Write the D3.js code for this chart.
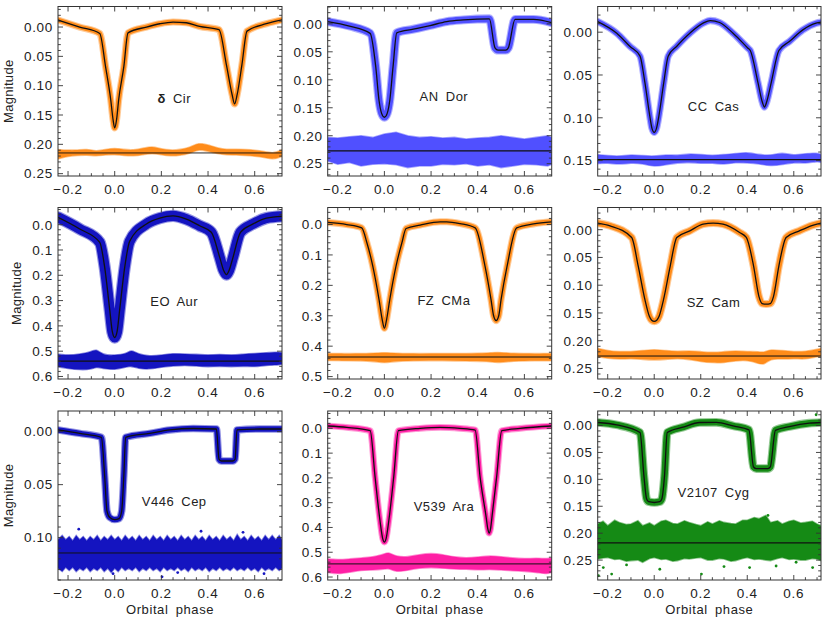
<!DOCTYPE html>
<html><head><meta charset="utf-8">
<script src="https://cdn.jsdelivr.net/npm/d3@7"></script>
<style>
body{margin:0;background:#fff}
text{font-family:"Liberation Sans",Arial,sans-serif;fill:#222}
</style>
</head><body>
<svg id="c" width="830" height="624"></svg>
<script>
// ---------------- DATA ----------------
const starNames = ["δ Cir","AN Dor","CC Cas","EO Aur","FZ CMa","SZ Cam","V446 Cep","V539 Ara","V2107 Cyg"];
const xDomain = [-0.243, 0.717];
const xTickVals = [-0.2, 0.0, 0.2, 0.4, 0.6];
const yDomains = [[-0.035,0.254],[-0.031,0.272],[-0.030,0.168],[-0.068,0.61],[-0.056,0.508],[-0.040,0.269],[-0.0195,0.14],[-0.070,0.612],[-0.027,0.287]];
const yTickVals = [
  [0,0.05,0.10,0.15,0.20,0.25],
  [0,0.05,0.10,0.15,0.20,0.25],
  [0,0.05,0.10,0.15],
  [0,0.1,0.2,0.3,0.4,0.5,0.6],
  [0,0.1,0.2,0.3,0.4,0.5],
  [0,0.05,0.10,0.15,0.20,0.25],
  [0,0.05,0.10],
  [0,0.1,0.2,0.3,0.4,0.5,0.6],
  [0,0.05,0.10,0.15,0.20,0.25]
];
// observational scatter (half width, mag) of the light curves
const lcScatter = [0.0042,0.006,0.003,0.02,0.008,0.0052,0.0025,0.009,0.006];
// residual reference levels (mag)
const resLevels = [0.2147,0.227,0.1489,0.539,0.4356,0.2276,0.1145,0.547,0.218];

// model light curves [phase, magnitude]
const dCirModel = [[-0.243,-0.012],[-0.15,0.0],[-0.064,0.011],[-0.039,0.068],[-0.017,0.124],[-0.007,0.158],[0,0.172],[0.008,0.158],[0.017,0.124],[0.039,0.068],[0.057,0.010],[0.136,0.0],[0.193,-0.0056],[0.25,-0.0085],[0.307,-0.0073],[0.364,-0.001],[0.447,0.0045],[0.479,0.065],[0.503,0.115],[0.514,0.131],[0.525,0.115],[0.545,0.065],[0.567,0.007],[0.65,-0.0056],[0.72,-0.0124]];
const anDorModel = [[-0.243,-0.004],[-0.15,0.004],[-0.061,0.017],[-0.037,0.077],[-0.023,0.137],[-0.012,0.160],[0,0.167],[0.012,0.160],[0.023,0.137],[0.037,0.077],[0.053,0.016],[0.124,0.0096],[0.196,0.003],[0.267,-0.004],[0.339,-0.007],[0.45,-0.009],[0.474,0.043],[0.487,0.047],[0.52,0.047],[0.531,0.043],[0.56,-0.008],[0.639,-0.008],[0.717,-0.002]];
const ccCasModel = [[-0.243,-0.0124],[-0.161,0.0012],[-0.104,0.0167],[-0.061,0.028],[-0.04,0.059],[-0.019,0.098],[-0.01,0.112],[0,0.117],[0.01,0.112],[0.02,0.098],[0.041,0.059],[0.06,0.028],[0.096,0.0167],[0.153,0.0012],[0.21,-0.0105],[0.241,-0.0136],[0.281,-0.0113],[0.339,0.0012],[0.403,0.0187],[0.413,0.0214],[0.446,0.059],[0.464,0.081],[0.474,0.0874],[0.484,0.081],[0.503,0.059],[0.536,0.0214],[0.581,0.0109],[0.639,-0.0027],[0.696,-0.0105],[0.717,-0.0117]];
const eoAurModel = [[-0.243,-0.029],[-0.15,0.017],[-0.064,0.070],[-0.043,0.168],[-0.021,0.339],[-0.01,0.424],[0,0.446],[0.01,0.424],[0.021,0.339],[0.043,0.168],[0.064,0.066],[0.136,-0.003],[0.193,-0.026],[0.25,-0.035],[0.307,-0.022],[0.364,0.004],[0.414,0.030],[0.45,0.129],[0.467,0.181],[0.479,0.197],[0.49,0.181],[0.507,0.129],[0.539,0.030],[0.593,-0.003],[0.65,-0.026],[0.719,-0.033]];
const fzCMaModel = [[-0.243,-0.007],[-0.161,0.0],[-0.097,0.011],[-0.075,0.06],[-0.05,0.136],[-0.023,0.247],[-0.01,0.31],[0,0.341],[0.01,0.31],[0.023,0.247],[0.05,0.136],[0.075,0.06],[0.093,0.013],[0.153,0.002],[0.239,-0.009],[0.267,-0.009],[0.324,-0.003],[0.389,0.011],[0.431,0.136],[0.457,0.247],[0.468,0.30],[0.479,0.316],[0.49,0.30],[0.5,0.247],[0.526,0.136],[0.567,0.011],[0.639,-0.002],[0.717,-0.009]];
const szCamModel = [[-0.243,-0.012],[-0.19,-0.007],[-0.097,0.014],[-0.069,0.065],[-0.04,0.126],[-0.021,0.156],[-0.011,0.163],[0,0.165],[0.011,0.163],[0.021,0.156],[0.04,0.126],[0.069,0.065],[0.097,0.014],[0.153,0.002],[0.21,-0.01],[0.253,-0.012],[0.296,-0.01],[0.367,0.005],[0.396,0.014],[0.427,0.065],[0.45,0.12],[0.464,0.133],[0.481,0.134],[0.499,0.133],[0.513,0.12],[0.536,0.065],[0.567,0.014],[0.624,0.002],[0.681,-0.008],[0.717,-0.012]];
const v446CepModel = [[-0.243,-0.0016],[-0.15,0.0016],[-0.057,0.0053],[-0.043,0.042],[-0.033,0.075],[-0.021,0.081],[0,0.083],[0.019,0.082],[0.03,0.075],[0.039,0.042],[0.047,0.0053],[0.15,0.0016],[0.236,-0.0016],[0.336,-0.003],[0.436,-0.0025],[0.447,0.026],[0.457,0.0277],[0.507,0.0277],[0.516,0.026],[0.524,-0.0016],[0.621,-0.0025],[0.719,-0.0025]];
const v539AraModel = [[-0.243,-0.0095],[-0.161,-0.004],[-0.061,0.0095],[-0.04,0.196],[-0.019,0.372],[-0.007,0.446],[0,0.459],[0.007,0.446],[0.019,0.372],[0.04,0.196],[0.06,0.0095],[0.153,0.0],[0.239,-0.004],[0.324,0.0],[0.389,0.0068],[0.41,0.196],[0.436,0.358],[0.443,0.405],[0.449,0.423],[0.455,0.405],[0.461,0.358],[0.481,0.196],[0.503,0.0095],[0.581,0.0],[0.717,-0.0095]];
const v2107CygModel = [[-0.243,-0.0056],[-0.161,-0.0012],[-0.061,0.013],[-0.044,0.095],[-0.033,0.136],[-0.024,0.1415],[0,0.143],[0.024,0.1415],[0.033,0.136],[0.044,0.095],[0.056,0.013],[0.124,0.003],[0.196,-0.0056],[0.267,-0.006],[0.339,0.0006],[0.407,0.008],[0.427,0.077],[0.439,0.080],[0.489,0.080],[0.499,0.077],[0.521,0.009],[0.581,0.002],[0.667,-0.0044],[0.717,-0.0056]];

// residual envelopes [phase, upper mag, lower mag]
const dCirRes = [[-0.243,0.209,0.225],[-0.2,0.210,0.220],[-0.16,0.210,0.219],[-0.12,0.208,0.218],[-0.08,0.212,0.220],[-0.04,0.209,0.218],[0,0.206,0.2175],[0.04,0.209,0.219],[0.08,0.210,0.220],[0.12,0.207,0.218],[0.16,0.203,0.215],[0.2,0.208,0.218],[0.24,0.210,0.220],[0.28,0.209,0.219],[0.32,0.206,0.216],[0.36,0.197,0.208],[0.40,0.201,0.212],[0.44,0.206,0.216],[0.48,0.209,0.218],[0.52,0.208,0.218],[0.56,0.209,0.219],[0.60,0.210,0.220],[0.64,0.212,0.222],[0.68,0.216,0.226],[0.72,0.209,0.220]];
const anDorRes = [[-0.243,0.203,0.245],[-0.2,0.204,0.251],[-0.15,0.202,0.248],[-0.1,0.200,0.254],[-0.05,0.203,0.251],[0,0.197,0.250],[0.05,0.194,0.252],[0.1,0.200,0.257],[0.15,0.203,0.254],[0.2,0.202,0.254],[0.25,0.204,0.251],[0.3,0.203,0.252],[0.35,0.206,0.250],[0.4,0.204,0.254],[0.45,0.203,0.252],[0.5,0.200,0.257],[0.55,0.203,0.254],[0.6,0.206,0.251],[0.65,0.203,0.252],[0.7,0.200,0.254],[0.717,0.203,0.251]];
const ccCasRes = [[-0.243,0.143,0.1535],[-0.2,0.1442,0.1527],[-0.15,0.145,0.1547],[-0.1,0.143,0.1527],[-0.05,0.1442,0.1535],[0,0.145,0.1574],[0.05,0.143,0.1547],[0.1,0.1442,0.1527],[0.15,0.1419,0.152],[0.2,0.143,0.1535],[0.25,0.1442,0.1527],[0.3,0.143,0.1547],[0.35,0.1419,0.152],[0.4,0.1403,0.1527],[0.45,0.143,0.1535],[0.5,0.1442,0.1566],[0.55,0.1403,0.1547],[0.6,0.1442,0.152],[0.65,0.1419,0.1535],[0.7,0.1411,0.1508],[0.717,0.143,0.152]];
const eoAurRes = [[-0.243,0.512,0.562],[-0.2,0.516,0.568],[-0.15,0.512,0.574],[-0.1,0.503,0.572],[-0.08,0.490,0.562],[-0.05,0.516,0.568],[0,0.516,0.574],[0.05,0.512,0.562],[0.07,0.493,0.559],[0.1,0.512,0.568],[0.15,0.520,0.572],[0.2,0.516,0.562],[0.25,0.509,0.559],[0.3,0.512,0.555],[0.35,0.512,0.559],[0.4,0.516,0.562],[0.45,0.512,0.559],[0.5,0.516,0.562],[0.55,0.512,0.559],[0.6,0.509,0.562],[0.65,0.507,0.555],[0.7,0.503,0.555],[0.719,0.507,0.551]];
const fzCMaRes = [[-0.243,0.424,0.447],[-0.15,0.425,0.448],[-0.05,0.424,0.449],[0,0.421,0.456],[0.05,0.424,0.449],[0.15,0.425,0.448],[0.25,0.424,0.447],[0.35,0.425,0.449],[0.45,0.423,0.450],[0.48,0.420,0.455],[0.55,0.424,0.449],[0.65,0.425,0.448],[0.717,0.424,0.448]];
const szCamRes = [[-0.243,0.2137,0.2288],[-0.2,0.218,0.2318],[-0.15,0.2197,0.2337],[-0.1,0.2197,0.2318],[-0.05,0.218,0.2337],[0,0.2155,0.2349],[0.05,0.218,0.2337],[0.1,0.2197,0.2318],[0.15,0.218,0.2337],[0.2,0.2197,0.2379],[0.25,0.2215,0.2397],[0.3,0.2197,0.2397],[0.35,0.218,0.2361],[0.4,0.2197,0.2349],[0.45,0.2197,0.2409],[0.47,0.2215,0.244],[0.5,0.2155,0.2318],[0.55,0.218,0.2337],[0.6,0.2197,0.2318],[0.65,0.2197,0.2337],[0.7,0.2155,0.2288],[0.717,0.2137,0.2276]];
const v446CepRes = [[-0.243,0.102,0.129],[-0.225,0.098,0.132],[-0.21,0.102,0.128],[-0.195,0.099,0.131],[-0.18,0.103,0.128],[-0.165,0.098,0.132],[-0.15,0.102,0.129],[-0.135,0.099,0.131],[-0.12,0.103,0.128],[-0.105,0.099,0.132],[-0.09,0.102,0.129],[-0.075,0.098,0.131],[-0.06,0.103,0.128],[-0.045,0.099,0.132],[-0.03,0.102,0.129],[-0.015,0.098,0.133],[0.0,0.102,0.129],[0.015,0.099,0.132],[0.03,0.103,0.128],[0.045,0.098,0.131],[0.06,0.102,0.129],[0.075,0.099,0.131],[0.09,0.103,0.128],[0.105,0.098,0.132],[0.12,0.102,0.129],[0.135,0.099,0.131],[0.15,0.103,0.128],[0.165,0.098,0.131],[0.18,0.102,0.129],[0.195,0.099,0.132],[0.21,0.103,0.128],[0.225,0.098,0.131],[0.24,0.102,0.129],[0.255,0.099,0.131],[0.27,0.103,0.128],[0.285,0.098,0.131],[0.30,0.102,0.129],[0.315,0.099,0.132],[0.33,0.103,0.128],[0.345,0.098,0.131],[0.36,0.102,0.129],[0.375,0.099,0.131],[0.39,0.103,0.128],[0.405,0.098,0.132],[0.42,0.102,0.129],[0.435,0.099,0.131],[0.45,0.103,0.128],[0.465,0.098,0.131],[0.48,0.102,0.129],[0.495,0.099,0.131],[0.51,0.103,0.128],[0.525,0.097,0.131],[0.54,0.102,0.129],[0.555,0.099,0.131],[0.57,0.103,0.128],[0.585,0.098,0.131],[0.60,0.102,0.129],[0.615,0.099,0.132],[0.63,0.103,0.128],[0.645,0.098,0.131],[0.66,0.102,0.129],[0.675,0.098,0.131],[0.69,0.102,0.128],[0.705,0.098,0.131],[0.717,0.102,0.129]];
const v539AraRes = [[-0.243,0.527,0.581],[-0.2,0.531,0.588],[-0.15,0.527,0.581],[-0.1,0.523,0.572],[-0.05,0.520,0.572],[0,0.507,0.568],[0.02,0.500,0.564],[0.05,0.518,0.581],[0.1,0.520,0.572],[0.15,0.509,0.564],[0.2,0.504,0.561],[0.25,0.509,0.564],[0.3,0.520,0.568],[0.35,0.523,0.568],[0.4,0.520,0.572],[0.45,0.514,0.568],[0.5,0.518,0.572],[0.55,0.523,0.574],[0.6,0.527,0.577],[0.65,0.523,0.581],[0.7,0.527,0.588],[0.717,0.523,0.581]];
const v2107CygRes = [[-0.243,0.183,0.248],[-0.22,0.178,0.246],[-0.2,0.186,0.245],[-0.17,0.176,0.249],[-0.15,0.180,0.248],[-0.12,0.184,0.252],[-0.1,0.183,0.251],[-0.07,0.177,0.250],[-0.05,0.186,0.254],[-0.02,0.181,0.247],[0,0.186,0.245],[0.03,0.178,0.249],[0.05,0.176,0.248],[0.08,0.182,0.252],[0.1,0.183,0.251],[0.13,0.177,0.247],[0.15,0.180,0.248],[0.18,0.184,0.246],[0.2,0.186,0.245],[0.23,0.179,0.250],[0.25,0.183,0.250],[0.28,0.177,0.247],[0.3,0.180,0.248],[0.33,0.182,0.252],[0.35,0.183,0.251],[0.38,0.176,0.247],[0.4,0.176,0.245],[0.43,0.171,0.249],[0.45,0.173,0.248],[0.48,0.167,0.250],[0.5,0.180,0.251],[0.53,0.177,0.247],[0.55,0.183,0.245],[0.58,0.178,0.249],[0.6,0.176,0.248],[0.63,0.181,0.250],[0.65,0.180,0.250],[0.68,0.178,0.247],[0.7,0.183,0.248],[0.717,0.186,0.251]];

// isolated points [phase, mag]
const v446CepOutliers = [[-0.154,0.092],[-0.007,0.134],[0.203,0.137],[0.27,0.133],[0.55,0.095],[0.64,0.134],[0.37,0.094]];
const v2107CygOutliers = [[-0.24,0.279],[-0.219,0.264],[-0.183,0.276],[-0.119,0.259],[0.024,0.267],[0.203,0.276],[0.30,0.262],[0.41,0.264],[0.524,0.261],[0.61,0.254],[0.681,0.264],[0.696,-0.02],[0.489,0.167]];

const models = [dCirModel,anDorModel,ccCasModel,eoAurModel,fzCMaModel,szCamModel,v446CepModel,v539AraModel,v2107CygModel];
const residuals = [dCirRes,anDorRes,ccCasRes,eoAurRes,fzCMaRes,szCamRes,v446CepRes,v539AraRes,v2107CygRes];
const outliers = [[],[],[],[],[],[],v446CepOutliers,[],v2107CygOutliers];

// ---------------- STYLE / LAYOUT ----------------
const colors = ["#ff8c1a","#5050ff","#5050ff","#1414c0","#ff8c1a","#ff8c1a","#1414c0","#ff1fa5","#158a15"];
const yFormats = [".2f",".2f",".2f",".1f",".1f",".2f",".2f",".1f",".2f"];
const yMinorStep = [0.01,0.01,0.01,0.02,0.02,0.01,0.01,0.02,0.01];
const resCurves = [d3.curveBasis,d3.curveLinear,d3.curveBasis,d3.curveBasis,d3.curveBasis,d3.curveBasis,d3.curveLinear,d3.curveBasis,d3.curveLinear];
const resLineWidth = [0.9,1.1,1.1,1.2,1.1,1.0,1.0,1.0,1.2];
const nameYFrac = [0.542,0.532,0.587,0.549,0.544,0.553,0.533,0.566,0.483];
const cols = [[58,282],[327.7,551.7],[597.7,821]];
const rows = [[6.5,176],[207.5,379],[411,580]];

const svg = d3.select("#c");
const defs = svg.append("defs");

starNames.forEach((nm, i) => {
  const c = i % 3, r = Math.floor(i / 3);
  const [x0, x1] = cols[c], [y0, y1] = rows[r];
  const x = d3.scaleLinear().domain(xDomain).range([x0, x1]);
  const y = d3.scaleLinear().domain(yDomains[i]).range([y0, y1]);
  const g = svg.append("g");
  const clipId = "clip" + i;
  defs.append("clipPath").attr("id", clipId).append("rect")
    .attr("x", x0).attr("y", y0).attr("width", x1 - x0).attr("height", y1 - y0);
  const pg = g.append("g").attr("clip-path", `url(#${clipId})`);
  const col = colors[i];

  // residual band
  const area = d3.area().x(d => x(d[0])).y0(d => y(d[1])).y1(d => y(d[2])).curve(resCurves[i]);
  pg.append("path").datum(residuals[i]).attr("d", area)
    .attr("fill", col).attr("stroke", col).attr("stroke-opacity", 0.5).attr("stroke-width", 1.6);
  pg.selectAll("circle.o").data(outliers[i]).join("circle")
    .attr("cx", d => x(d[0])).attr("cy", d => y(d[1])).attr("r", 1.4).attr("fill", col);
  // residual zero line
  pg.append("line").attr("x1", x0).attr("x2", x1)
    .attr("y1", y(resLevels[i])).attr("y2", y(resLevels[i]))
    .attr("stroke", "#111").attr("stroke-width", resLineWidth[i]);

  // light curve (observations as band) + model
  const pxPerMag = Math.abs(y(1) - y(0));
  const bw = 2 * lcScatter[i] * pxPerMag;
  const line = d3.line().x(d => x(d[0])).y(d => y(d[1])).curve(d3.curveMonotoneX);
  pg.append("path").datum(models[i]).attr("d", line).attr("fill", "none")
    .attr("stroke", col).attr("stroke-opacity", 0.45).attr("stroke-width", bw + 2.2)
    .attr("stroke-linejoin", "round").attr("stroke-linecap", "round");
  pg.append("path").datum(models[i]).attr("d", line).attr("fill", "none")
    .attr("stroke", col).attr("stroke-width", bw)
    .attr("stroke-linejoin", "round").attr("stroke-linecap", "round");
  pg.append("path").datum(models[i]).attr("d", line).attr("fill", "none")
    .attr("stroke", "#111").attr("stroke-width", 1.3).attr("stroke-linejoin", "round");

  // frame
  g.append("rect").attr("x", x0).attr("y", y0).attr("width", x1 - x0).attr("height", y1 - y0)
    .attr("fill", "none").attr("stroke", "#333").attr("stroke-width", 1);

  // x ticks
  const xMinor = d3.range(-0.2, xDomain[1] + 1e-9, 0.05).map(v => Math.round(v * 100) / 100);
  const tk = g.append("g").attr("stroke", "#333").attr("stroke-width", 0.9);
  xMinor.forEach(v => {
    const major = xTickVals.some(t => Math.abs(t - v) < 1e-6);
    const L = major ? 5 : 2.8;
    tk.append("line").attr("x1", x(v)).attr("x2", x(v)).attr("y1", y1).attr("y2", y1 - L);
    tk.append("line").attr("x1", x(v)).attr("x2", x(v)).attr("y1", y0).attr("y2", y0 + L);
  });
  // y ticks
  const st = yMinorStep[i];
  const yMinor = d3.range(Math.ceil(yDomains[i][0] / st) * st, yDomains[i][1] + 1e-9, st).map(v => Math.round(v * 1000) / 1000);
  yMinor.forEach(v => {
    const major = yTickVals[i].some(t => Math.abs(t - v) < 1e-6);
    const L = major ? 5 : 2.8;
    tk.append("line").attr("y1", y(v)).attr("y2", y(v)).attr("x1", x0).attr("x2", x0 + L);
    tk.append("line").attr("y1", y(v)).attr("y2", y(v)).attr("x1", x1).attr("x2", x1 - L);
  });

  // tick labels
  const fx = d3.format(".1f"), fy = d3.format(yFormats[i]);
  g.selectAll("text.xl").data(xTickVals).join("text")
    .attr("x", d => x(d)).attr("y", y1 + 18).attr("text-anchor", "middle")
    .attr("font-size", 13.5).attr("letter-spacing", 0.7).text(d => fx(d));
  g.selectAll("text.yl").data(yTickVals[i]).join("text")
    .attr("x", x0 - 5).attr("y", d => y(d) + 4.8).attr("text-anchor", "end")
    .attr("font-size", 13.5).attr("letter-spacing", 0.7).text(d => fy(d));

  // star name (Greek letter drawn bold as in the original)
  const t = g.append("text").attr("x", x(0.255)).attr("y", y0 + nameYFrac[i] * (y1 - y0) + 4.6)
    .attr("text-anchor", "middle").attr("font-size", 13).attr("letter-spacing", 0.5)
    .attr("word-spacing", 3);
  const parts = nm.split(" ");
  t.append("tspan").attr("font-weight", /[α-ω]/.test(parts[0]) ? "bold" : null).text(parts[0]);
  t.append("tspan").text(" " + parts.slice(1).join(" "));

  // axis titles
  if (c === 0) {
    const tx = r === 1 ? 17 : 9;
    g.append("text").attr("transform", `translate(${tx + 4},${(y0 + y1) / 2}) rotate(-90)`)
      .attr("text-anchor", "middle").attr("font-size", 13).attr("letter-spacing", 0.3).text("Magnitude");
  }
  if (r === 2) {
    g.append("text").attr("x", (x0 + x1) / 2).attr("y", 614).attr("text-anchor", "middle")
      .attr("font-size", 13).attr("letter-spacing", 0.6).attr("word-spacing", 3).text("Orbital phase");
  }
});
</script>
</body></html>
